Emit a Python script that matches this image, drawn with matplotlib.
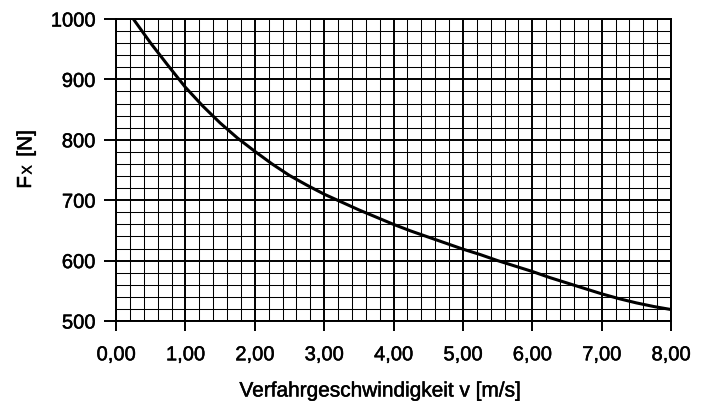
import matplotlib
matplotlib.use("Agg")
import matplotlib.pyplot as plt
import matplotlib.patheffects as pe
from matplotlib.ticker import MultipleLocator, FuncFormatter

# ---- data ----
speed = [0.25, 0.50, 0.75, 1.00, 1.25, 1.50, 1.75, 2.00, 2.25, 2.50,
         2.75, 3.00, 3.25, 3.50, 3.75, 4.00, 4.25, 4.50, 4.75, 5.00,
         5.25, 5.50, 5.75, 6.00, 6.25, 6.50, 6.75, 7.00, 7.25, 7.50,
         7.75, 8.00]
force = [1000, 960, 923, 887, 856, 828, 803, 781, 760, 741,
         725, 710, 697, 684, 672, 660, 649, 639, 629, 619,
         610, 600, 591, 582, 572, 563, 554, 545, 537, 530,
         524, 519]
x_ticks = [0, 1, 2, 3, 4, 5, 6, 7, 8]
y_ticks = [500, 600, 700, 800, 900, 1000]
x_label = "Verfahrgeschwindigkeit v [m/s]"
y_label_parts = ["F", "X", " [N]"]   # F with a small X, then unit

plt.rcParams["font.family"] = ["Liberation Sans", "DejaVu Sans"]

W, H = 706, 402
fig = plt.figure(figsize=(W / 100, H / 100), dpi=100)
ax = fig.add_axes([116 / W, 1 - 322 / H, (671 - 116) / W, (322 - 20) / H])

ax.plot(speed, force, color="black", lw=2.2, zorder=5)

ax.set_xlim(0, 8)
ax.set_ylim(500, 1000)
ax.set_xticks(x_ticks)
ax.set_yticks(y_ticks)
ax.xaxis.set_minor_locator(MultipleLocator(0.2))
ax.yaxis.set_minor_locator(MultipleLocator(20))
ax.xaxis.set_major_formatter(FuncFormatter(lambda v, p: f"{v:.2f}".replace(".", ",")))
ax.yaxis.set_major_formatter(FuncFormatter(lambda v, p: f"{int(v)}"))

ax.grid(which="minor", color="black", lw=0.75)
ax.grid(which="major", color="black", lw=1.4)
ax.set_axisbelow(True)

fs = 14.5
bold = [pe.withStroke(linewidth=0.35, foreground="black")]
ax.tick_params(axis="x", which="major", direction="out", length=7, width=1.4,
               pad=10.5, labelsize=fs, color="black")
ax.tick_params(axis="y", which="major", direction="out", length=8.4, width=1.4,
               pad=6.5, labelsize=fs, color="black")
ax.tick_params(which="minor", length=0)
for lab in ax.get_xticklabels() + ax.get_yticklabels():
    lab.set_path_effects(bold)

for s in ax.spines.values():
    s.set_linewidth(1.4)
    s.set_color("black")

fig.text(380.5 / W, 1 - 397.5 / H, x_label, ha="center", va="baseline", fontsize=15,
         path_effects=bold)

# y label: "F" + small "X" on the baseline + " [N]", rotated 90°
bx = 31.5 / W
starts = [189.5, 175.5, 163.5]
sizes = [15, 10, 15]
for part, y0, size in zip(y_label_parts, starts, sizes):
    fig.text(bx, 1 - y0 / H, part, rotation=90, rotation_mode="anchor",
             ha="left", va="baseline", fontsize=size, path_effects=bold)

fig.savefig("out.png", dpi=100)
